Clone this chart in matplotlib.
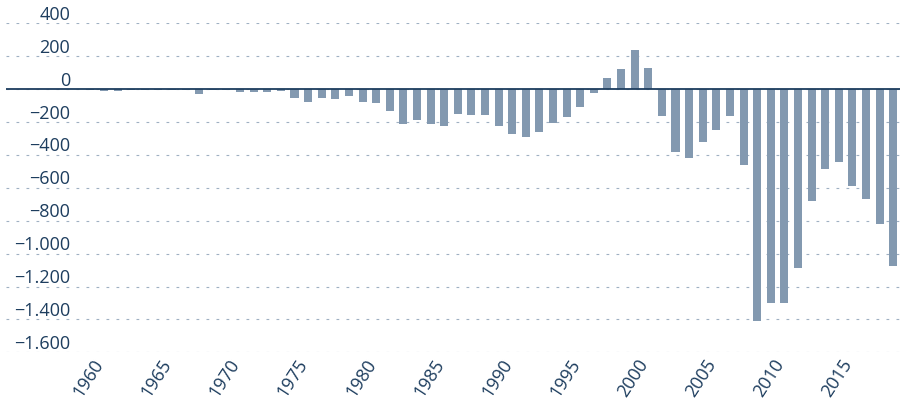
import matplotlib.pyplot as plt
from matplotlib.transforms import ScaledTranslation

years = list(range(1960, 2020))
values = [-3, -10, -10, -3, -3, -3, -3, -8, -30, -3,
          -3, -20, -20, -15, -12, -55, -77, -55, -60, -42,
          -78, -85, -134, -213, -189, -213, -225, -152, -158, -158,
          -225, -274, -292, -262, -207, -170, -108, -23, 67, 121,
          236, 127, -164, -380, -416, -319, -247, -162, -460, -1412,
          -1297, -1303, -1090, -683, -483, -441, -586, -666, -818, -1078]
yticks = [400, 200, 0, -200, -400, -600, -800, -1000, -1200, -1400, -1600]
ytick_labels = ['400', '200', '0', '\u2212200', '\u2212400', '\u2212600', '\u2212800',
                '\u22121.000', '\u22121.200', '\u22121.400', '\u22121.600']
xticks = [1960, 1965, 1970, 1975, 1980, 1985, 1990, 1995, 2000, 2005, 2010, 2015]

bar_color = '#8399b0'
text_color = '#1d3d5e'
grid_color = '#9fb0c2'

plt.rcParams['font.family'] = ['Open Sans', 'DejaVu Sans']

fig = plt.figure(figsize=(9, 4.02), dpi=100)
ax = fig.add_axes([0.0067, 0.121, 0.9933, 0.8186])

ax.bar(years, values, width=0.59, color=bar_color, zorder=2)
ax.axhline(0, color=text_color, lw=1.3, zorder=3)

ax.set_xlim(1953.8, 2019.5)
ax.set_ylim(-1600, 400)

ax.set_yticks(yticks)
ax.set_yticklabels(ytick_labels)
ax.grid(axis='y', color=grid_color, lw=0.8, linestyle=(0, (2.5, 6.5)), zorder=0)
ax.tick_params(axis='y', length=0, pad=0, labelsize=13, labelcolor=text_color)
for lab in ax.get_yticklabels():
    lab.set_horizontalalignment('right')
    lab.set_verticalalignment('bottom')
    lab.set_transform(lab.get_transform() + ScaledTranslation(64 / 100, 0.5 / 100, fig.dpi_scale_trans))

ax.set_xticks(xticks)
ax.set_xticklabels([str(x) for x in xticks], rotation=57, ha='right', rotation_mode='anchor')
ax.tick_params(axis='x', length=0, pad=2, labelsize=13, labelcolor=text_color)
for lab in ax.get_xticklabels():
    lab.set_transform(lab.get_transform() + ScaledTranslation(2 / 100, 0, fig.dpi_scale_trans))

for s in ax.spines.values():
    s.set_visible(False)

plt.savefig('out.png', dpi=100)
